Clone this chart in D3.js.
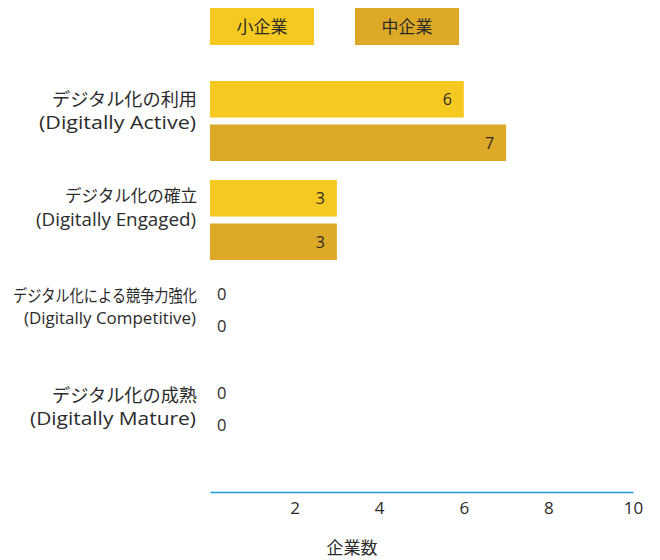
<!DOCTYPE html>
<html><head><meta charset="utf-8">
<script src="https://cdn.jsdelivr.net/npm/d3@7"></script>
<style>
body{margin:0;background:#fff;}
text{font-family:"Open Sans","Noto Sans CJK JP",sans-serif;fill:#2b2b2b;}
</style></head>
<body>
<svg id="chart" width="660" height="560"></svg>
<script>
const categoriesJa = ["デジタル化の利用","デジタル化の確立","デジタル化による競争力強化","デジタル化の成熟"];
const categoriesEn = ["(Digitally Active)","(Digitally Engaged)","(Digitally Competitive)","(Digitally Mature)"];
const seriesNames = ["小企業","中企業"];
const smallValues = [6,3,0,0];
const mediumValues = [7,3,0,0];
const xTicks = [2,4,6,8,10];
const axisTitle = "企業数";
const colors = ["#F5C920","#DEA926"];

// per-category label sizing (labels are shrunk to fit the left margin)
const jaSize = [18, 16.5, 16.5, 18];
const jaWidth = [145, 132, 184, 145];
const enSize = [19, 18.5, 17, 19];
const enWidth = [157, 160, 172, 166];
const labelRows = [[25, 48], [22, 45], [23, 45], [24, 47]];

const svg = d3.select("#chart");
const plotLeft = 210, plotRight = 633, plotTop = 74, plotBottom = 470;

const x = d3.scaleLinear().domain([0,10]).range([plotLeft,plotRight]);
const y = d3.scaleBand().domain(d3.range(categoriesJa.length)).range([plotTop,plotBottom]).paddingInner(0).paddingOuter(0);
const sub = d3.scaleBand().domain([0,1]).range([7, 87]).paddingInner(0.16);

// legend
const legend = svg.append("g");
seriesNames.forEach((n,i)=>{
  const gx = 210 + i*145;
  legend.append("rect").attr("x",gx).attr("y",8).attr("width",104).attr("height",37).attr("fill",colors[i]);
  legend.append("text").attr("x",gx+52).attr("y",26).attr("text-anchor","middle")
    .attr("dominant-baseline","central").attr("font-size",17).text(n);
});

// bars
const series = [smallValues, mediumValues];
const zeroShift = [-3.75, -15.25];
categoriesJa.forEach((c,ci)=>{
  const g = svg.append("g").attr("transform",`translate(0,${y(ci)})`);
  series.forEach((vals,si)=>{
    const v = vals[ci];
    const by = sub(si), bh = sub.bandwidth();
    g.append("rect").attr("x",x(0)).attr("y",by).attr("width",x(v)-x(0)).attr("height",bh).attr("fill",colors[si]);
    const t = g.append("text").attr("dominant-baseline","central").text(v);
    if (v > 0) t.attr("x",x(v)-12).attr("y",by+bh/2).attr("text-anchor","end").attr("font-size",16);
    else t.attr("x",x(0)+7).attr("y",by+bh/2+zeroShift[si]).attr("text-anchor","start").attr("font-size",16.5);
  });
  // category label, two lines, right aligned
  const lbl = g.append("text").attr("text-anchor","end").attr("dominant-baseline","central");
  lbl.append("tspan").attr("x",197).attr("y",labelRows[ci][0]).attr("font-size",jaSize[ci])
    .attr("textLength",jaWidth[ci]).attr("lengthAdjust","spacingAndGlyphs").text(c);
  lbl.append("tspan").attr("x",196).attr("y",labelRows[ci][1]).attr("font-size",enSize[ci])
    .attr("textLength",enWidth[ci]).attr("lengthAdjust","spacingAndGlyphs").text(categoriesEn[ci]);
});

// x axis
const axis = d3.axisBottom(x).tickValues(xTicks).tickSize(0).tickPadding(10).tickFormat(d3.format("d"));
const ax = svg.append("g").attr("transform","translate(0,492)").call(axis);
ax.select(".domain").attr("stroke","#1a9ad6").attr("stroke-width",1.3);
ax.selectAll(".tick text").attr("font-size",17).attr("fill","#2b2b2b").style("font-family",'"Open Sans","Noto Sans CJK JP",sans-serif');

svg.append("text").attr("x",352).attr("y",547).attr("text-anchor","middle")
  .attr("dominant-baseline","central").attr("font-size",17).text(axisTitle);
</script>
</body></html>
